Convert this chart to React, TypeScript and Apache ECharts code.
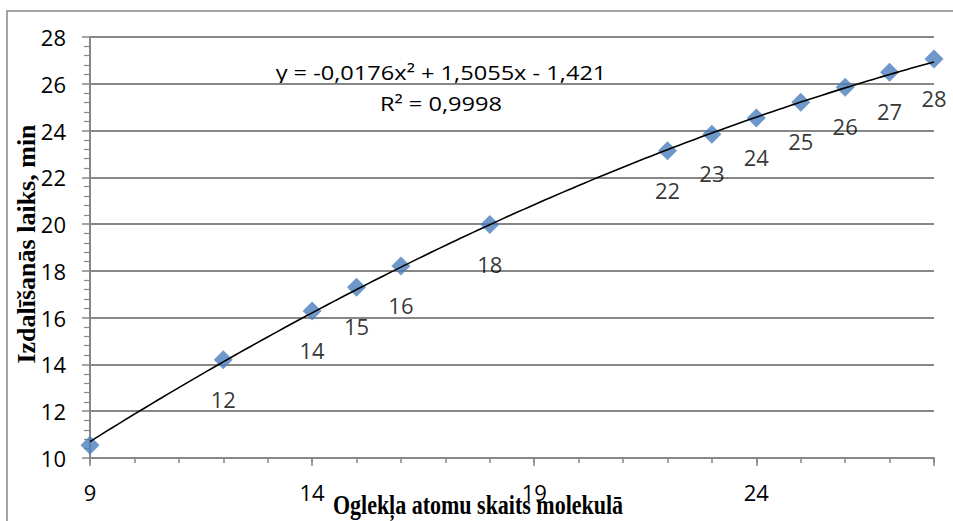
import React, { useEffect, useRef } from "react";
import * as echarts from "echarts";

// Carbon atom count per molecule and the measured elution time (min)
const carbonAtoms = [9, 12, 14, 15, 16, 18, 22, 23, 24, 25, 26, 27, 28];
const elutionTime = [10.55, 14.2, 16.28, 17.3, 18.21, 19.98, 23.14, 23.84, 24.54, 25.21, 25.85, 26.49, 27.06];

// Polynomial trend line (2nd order) as stated in the equation label
const trendA = -0.0176;
const trendB = 1.5055;
const trendC = -1.421;
const trendText = "y = -0,0176x² + 1,5055x - 1,421";
const r2Text = "R² = 0,9998";

const xMajorTicks = [9, 14, 19, 24, 28];
const xTickLabels = [9, 14, 19, 24];

const xTitle = "Oglekļa atomu skaits molekulā";
const yTitle = "Izdalīšanās laiks, min";

const GRAY = "#878787";
const BLUE = "#4a7ebb";
const SANS = "'Open Sans', 'Noto Sans', sans-serif";
const SERIF = "'Liberation Serif', 'DejaVu Serif', serif";

export default function App() {
  const ref = useRef<HTMLDivElement>(null);

  useEffect(() => {
    if (!ref.current) return;
    const chart = echarts.init(ref.current, null, { renderer: "svg" });

    // the first point sits on the axis label, so it carries no data label
    const points = carbonAtoms.map((x, i) => ({
      value: [x, elutionTime[i]],
      label: { show: i !== 0 },
    }));
    const trend: number[][] = [];
    const xMin = carbonAtoms[0];
    const xMax = carbonAtoms[carbonAtoms.length - 1];
    for (let x = xMin; x <= xMax + 1e-9; x += 0.25) {
      trend.push([x, trendA * x * x + trendB * x + trendC]);
    }

    chart.setOption({
      animation: false,
      backgroundColor: "#ffffff",
      grid: { left: 90, right: 19, top: 37, bottom: 63, containLabel: false },
      xAxis: [
        {
          type: "value",
          min: 9,
          max: 28,
          interval: 1,
          position: "bottom",
          axisLine: { show: true, lineStyle: { color: GRAY, width: 2 } },
          axisTick: { show: true, length: 5, lineStyle: { color: GRAY, width: 1.5 } },
          axisLabel: { show: false },
          splitLine: { show: false },
        },
        {
          type: "value",
          min: 9,
          max: 28,
          position: "bottom",
          axisLine: { show: false },
          axisTick: {
            show: true,
            length: 8,
            customValues: xMajorTicks,
            lineStyle: { color: GRAY, width: 1.5 },
          },
          axisLabel: {
            show: true,
            customValues: xTickLabels,
            margin: 23,
            fontFamily: SANS,
            fontSize: 22,
            color: "#000",
          },
          splitLine: { show: false },
        },
      ],
      yAxis: {
        type: "value",
        min: 10,
        max: 28,
        interval: 2,
        axisLine: { show: true, lineStyle: { color: GRAY, width: 2 } },
        axisTick: { show: true, length: 8, lineStyle: { color: GRAY, width: 1.5 } },
        minorTick: { show: true, splitNumber: 5, length: 6, lineStyle: { color: GRAY, width: 1.2 } },
        axisLabel: {
          margin: 24,
          fontFamily: SANS,
          fontSize: 22,
          color: "#000",
        },
        splitLine: { show: true, lineStyle: { color: GRAY, width: 2 } },
      },
      series: [
        {
          type: "scatter",
          xAxisIndex: 0,
          data: points,
          symbol: "diamond",
          symbolSize: 19,
          itemStyle: { color: BLUE },
          label: {
            show: true,
            position: "inside",
            offset: [0, 39],
            formatter: (p: any) => String(p.value[0]),
            fontFamily: SANS,
            fontSize: 22,
            color: "#000",
          },
          z: 2,
        },
        {
          type: "line",
          xAxisIndex: 0,
          data: trend,
          showSymbol: false,
          symbol: "none",
          smooth: true,
          lineStyle: { color: "#000", width: 1.6 },
          z: 3,
        },
      ],
      graphic: [
        {
          type: "rect",
          shape: { x: 7, y: 11, width: 960, height: 530 },
          style: { fill: "none", stroke: GRAY, lineWidth: 1.5 },
          silent: true,
        },
        {
          type: "text",
          x: 441,
          y: 72,
          scaleX: 1.18,
          style: {
            text: trendText,
            fontFamily: SANS,
            fontSize: 20,
            fill: "#000",
            align: "center",
            verticalAlign: "middle",
          },
        },
        {
          type: "text",
          x: 441,
          y: 103,
          scaleX: 1.18,
          style: {
            text: r2Text,
            fontFamily: SANS,
            fontSize: 20,
            fill: "#000",
            align: "center",
            verticalAlign: "middle",
          },
        },
        {
          type: "text",
          x: 26,
          y: 244,
          rotation: Math.PI / 2,
          style: {
            text: yTitle,
            fontFamily: SERIF,
            fontWeight: "bold",
            fontSize: 26,
            fill: "#000",
            align: "center",
            verticalAlign: "middle",
          },
        },
        {
          type: "text",
          x: 478,
          y: 505,
          scaleY: 1.25,
          style: {
            text: xTitle,
            fontFamily: SERIF,
            fontWeight: "bold",
            fontSize: 22,
            fill: "#000",
            align: "center",
            verticalAlign: "middle",
          },
        },
      ],
    });

    return () => chart.dispose();
  }, []);

  return (
    <div
      ref={ref}
      style={{ position: "absolute", left: 0, top: 0, width: 953, height: 521 }}
    />
  );
}
